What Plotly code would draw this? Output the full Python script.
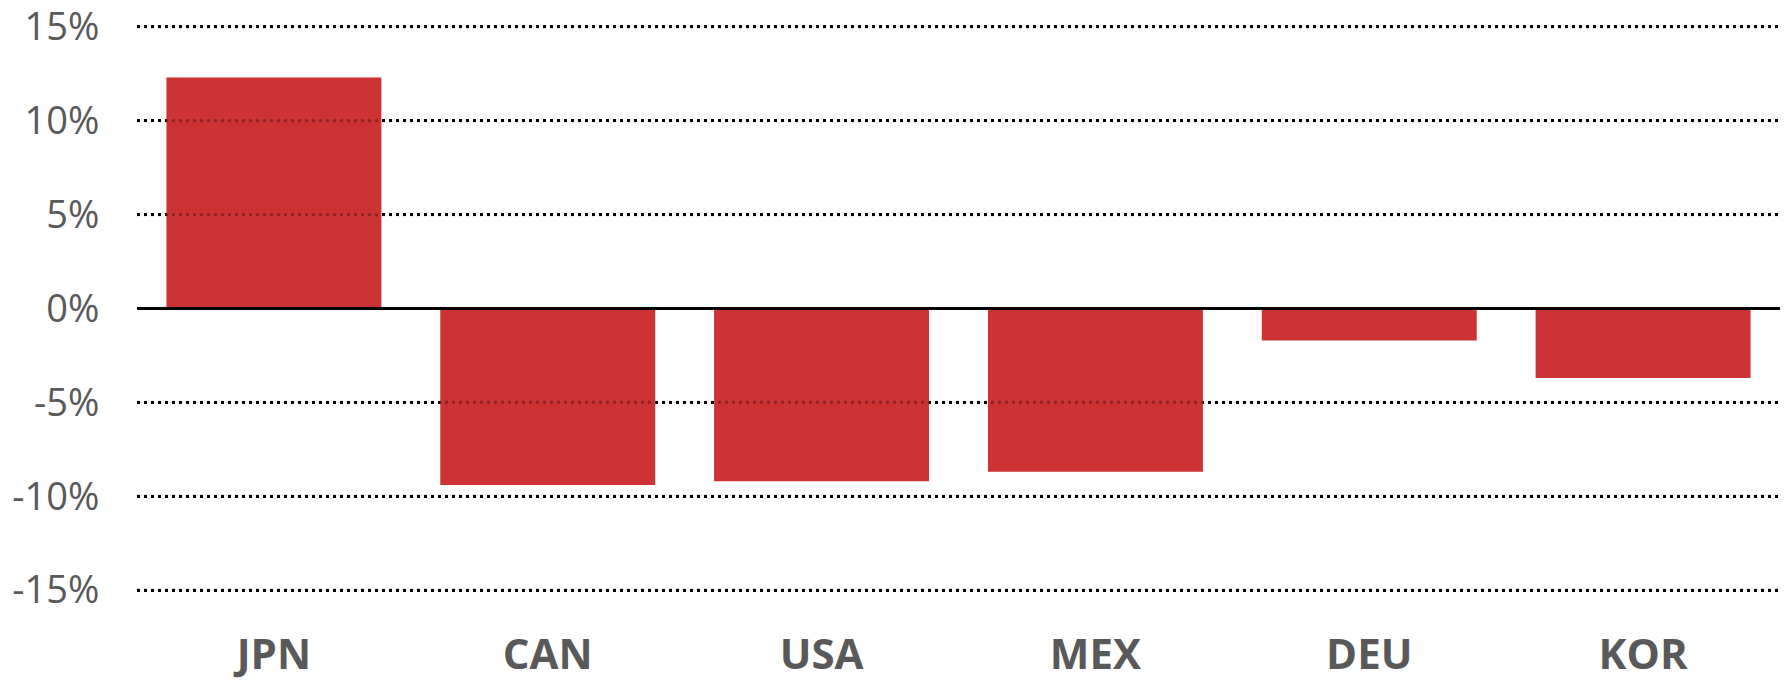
import plotly.graph_objects as go

countries = ['JPN', 'CAN', 'USA', 'MEX', 'DEU', 'KOR']
change_pct = [12.3, -9.4, -9.2, -8.7, -1.7, -3.7]

y_ticks = [-15, -10, -5, 0, 5, 10, 15]
y_tick_labels = ['-15%', '-10%', '-5%', '0%', '5%', '10%', '15%']

bar_color = '#CD3334'
text_grey = '#595959'
font_name = 'Open Sans'

fig = go.Figure()
fig.add_trace(go.Bar(x=countries, y=change_pct, marker_color=bar_color, marker_line_width=0))

# Dotted gridlines show faintly through the bars in the original
for v in y_ticks:
	if v == 0:
		continue
	fig.add_shape(type='line', xref='paper', x0=0, x1=1, yref='y', y0=v, y1=v, layer='above',
		line=dict(color='rgba(0,0,0,0.3)', width=3, dash='3px,4px'))

fig.update_layout(
	width=1789, height=680,
	margin=dict(l=137, r=9, t=25, b=88),
	plot_bgcolor='white', paper_bgcolor='white',
	bargap=0.215, showlegend=False,
	font=dict(family=font_name, color=text_grey),
)
fig.update_yaxes(
	range=[-15.1, 15.1], tickvals=y_ticks, ticktext=y_tick_labels,
	tickfont=dict(size=38, color=text_grey, family=font_name),
	showgrid=True, gridcolor='black', gridwidth=3, griddash='3px,4px',
	zeroline=True, zerolinecolor='black', zerolinewidth=3, zerolinelayer='above traces',
	ticks='outside', ticklen=29, tickcolor='rgba(0,0,0,0)', showline=False, automargin=False,
	ticklabeloverflow='allow',
)
fig.update_xaxes(
	tickfont=dict(size=42, color=text_grey, family=font_name, weight='bold'),
	ticks='outside', ticklen=26, tickcolor='rgba(0,0,0,0)', showline=False, showgrid=False, automargin=False,
	ticklabeloverflow='allow',
)

# drop the default page margin so the chart fills the window
fig.write_html('out.html', config={'displayModeBar': False}, post_script="document.body.style.margin='0';")
